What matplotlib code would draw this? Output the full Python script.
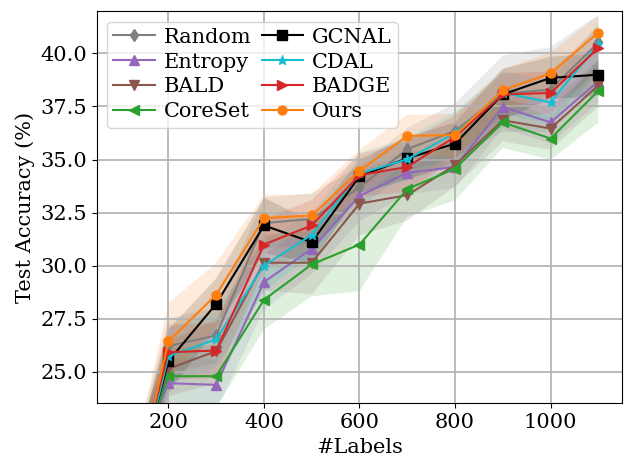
import numpy as np
import matplotlib
matplotlib.use('Agg')
import matplotlib.pyplot as plt

plt.rcParams['font.family'] = 'serif'
plt.rcParams['font.size'] = 15

labels = np.array([100, 200, 300, 400, 500, 600, 700, 800, 900, 1000, 1100])

# mean accuracy per method
random_acc = [17.5, 26.2, 26.7, 32.0, 32.2, 33.68, 35.49, 36.35, 38.1, 38.3, 40.52]
entropy_acc = [19.0, 24.45, 24.37, 29.22, 30.79, 33.28, 34.37, 34.65, 37.48, 36.75, 38.69]
bald_acc = [18.0, 25.13, 25.96, 30.13, 30.13, 32.92, 33.32, 34.73, 36.85, 36.46, 38.5]
coreset_acc = [18.5, 24.78, 24.78, 28.38, 30.05, 30.99, 33.6, 34.57, 36.75, 35.99, 38.24]
gcnal_acc = [17.0, 25.49, 28.19, 31.89, 31.1, 34.21, 35.06, 35.75, 38.07, 38.85, 39.0]
cdal_acc = [16.5, 25.72, 26.52, 29.99, 31.45, 34.34, 35.01, 36.25, 38.15, 37.69, 40.44]
badge_acc = [17.0, 25.91, 25.99, 30.99, 31.89, 34.26, 34.65, 36.07, 38.07, 38.14, 40.26]
ours_acc = [16.5, 26.42, 28.62, 32.23, 32.36, 34.46, 36.11, 36.15, 38.27, 39.06, 40.99]

# standard deviation per method
random_std = [1.5, 1.3, 1.3, 1.2, 1.2, 1.0, 1.0, 1.3, 1.8, 2.0, 1.3]
entropy_std = [1.5, 1.2, 1.2, 1.3, 1.2, 1.2, 1.0, 1.0, 1.0, 1.0, 1.0]
bald_std = [1.5, 1.3, 1.5, 1.3, 1.5, 1.5, 1.2, 1.0, 1.0, 1.0, 1.0]
coreset_std = [1.5, 1.3, 1.5, 1.4, 1.5, 2.2, 1.3, 1.5, 1.2, 1.0, 1.5]
gcnal_std = [1.5, 1.5, 1.2, 1.3, 1.0, 0.8, 1.0, 1.0, 1.2, 1.0, 1.0]
cdal_std = [1.5, 1.3, 1.3, 1.2, 1.0, 1.0, 1.0, 1.0, 1.0, 1.0, 1.0]
badge_std = [1.5, 1.3, 1.3, 1.2, 1.2, 1.0, 1.2, 1.0, 1.0, 1.0, 1.0]
ours_std = [1.8, 1.8, 1.5, 1.1, 1.0, 1.0, 1.0, 1.0, 1.0, 1.0, 0.8]

methods = [
    ('Random', random_acc, random_std, 'tab:gray', 'd'),
    ('Entropy', entropy_acc, entropy_std, 'tab:purple', '^'),
    ('BALD', bald_acc, bald_std, 'tab:brown', 'v'),
    ('CoreSet', coreset_acc, coreset_std, 'tab:green', '<'),
    ('GCNAL', gcnal_acc, gcnal_std, 'black', 's'),
    ('CDAL', cdal_acc, cdal_std, 'tab:cyan', '*'),
    ('BADGE', badge_acc, badge_std, 'tab:red', '>'),
    ('Ours', ours_acc, ours_std, 'tab:orange', 'o'),
]

fig = plt.figure(figsize=(6.26, 4.62), dpi=100)
ax = fig.add_axes([0.1545, 0.127, 0.8395, 0.849])

for name, acc, std, color, marker in methods:
    acc = np.array(acc)
    std = np.array(std)
    ax.plot(labels, acc, color=color, marker=marker, markersize=6.5, linewidth=1.5, label=name)
    ax.fill_between(labels, acc - std, acc + std, color=color, alpha=0.15, linewidth=0)

ax.set_xlim(50, 1150)
ax.set_ylim(23.5, 42.0)
ax.set_xticks([200, 400, 600, 800, 1000])
ax.set_yticks([25.0, 27.5, 30.0, 32.5, 35.0, 37.5, 40.0])
ax.yaxis.set_major_formatter(matplotlib.ticker.FormatStrFormatter('%.1f'))
ax.grid(True, linewidth=1.2)
ax.set_xlabel('#Labels')
ax.set_ylabel('Test Accuracy (%)')
ax.legend(loc='upper left', ncol=2, fontsize=15, handlelength=2.0,
          labelspacing=0.28, columnspacing=0.5, borderpad=0.3, handletextpad=0.4)

fig.savefig('out.png')
